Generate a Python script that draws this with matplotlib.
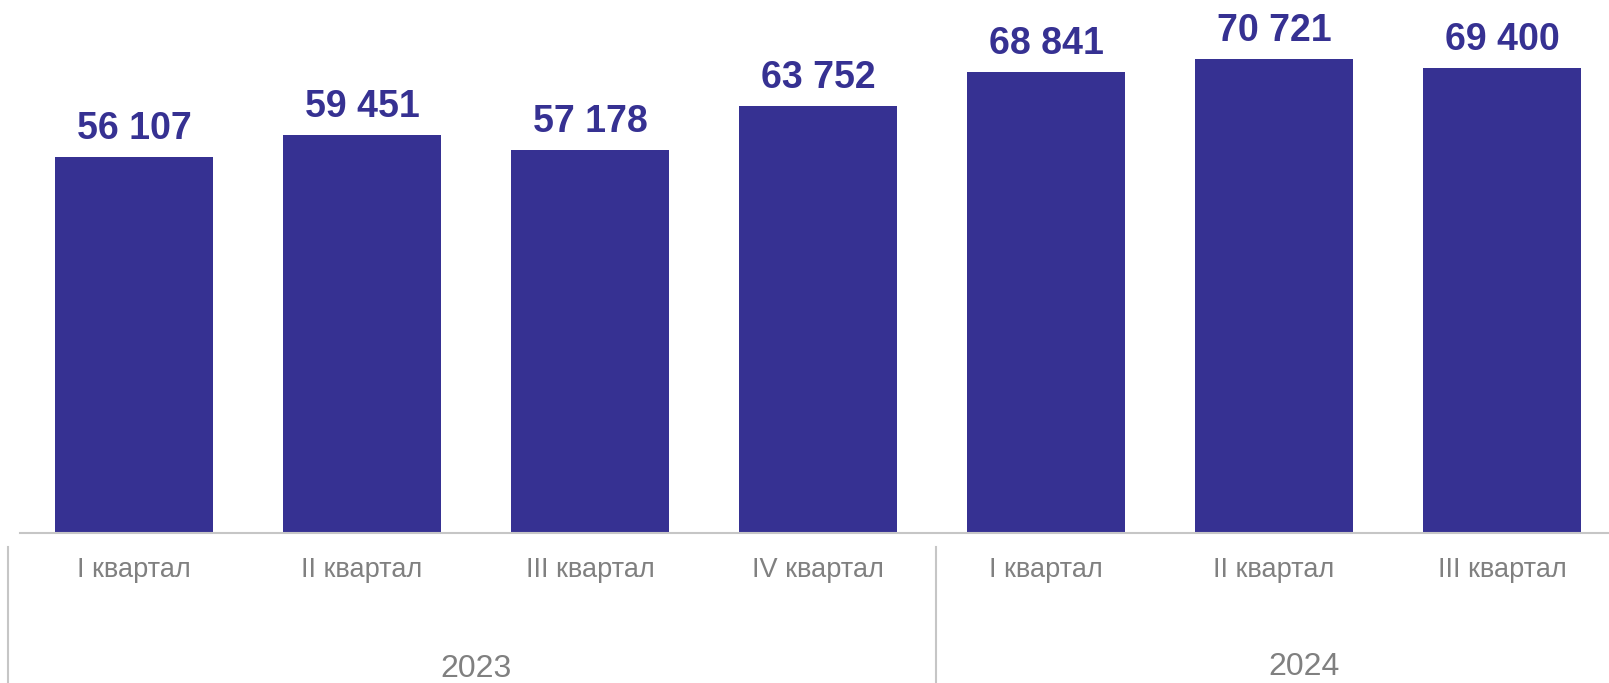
import matplotlib
matplotlib.use("Agg")
import matplotlib.pyplot as plt
import matplotlib.transforms as mtransforms
from matplotlib.lines import Line2D

categories = ["I квартал", "II квартал", "III квартал", "IV квартал",
              "I квартал", "II квартал", "III квартал"]
values = [56107, 59451, 57178, 63752, 68841, 70721, 69400]
value_labels = ["56 107", "59 451", "57 178", "63 752", "68 841", "70 721", "69 400"]
years = ["2023", "2024"]
year_groups = [[0, 1, 2, 3], [4, 5, 6]]

BAR = "#363192"
GRAY_TXT = "#808080"
GRAY_LINE = "#c6c6c6"
FONT = "Liberation Sans"

W, H, DPI = 1609, 683, 100
fig = plt.figure(figsize=(W / DPI, H / DPI), dpi=DPI)
base_px = 533
ax = fig.add_axes([20 / W, 1 - base_px / H, 1 - 20 / W, base_px / H])

x = list(range(len(values)))
ax.bar(x, values, width=0.693, color=BAR, zorder=2)
ax.set_xlim(-0.5, (W - 134) / 228)
ax.set_ylim(0, base_px / 0.0067)

for s in ["top", "left", "right"]:
    ax.spines[s].set_visible(False)
ax.spines["bottom"].set_color(GRAY_LINE)
ax.spines["bottom"].set_linewidth(1.5)
ax.set_xticks([])
ax.set_yticks([])

for xi, v, lab in zip(x, values, value_labels):
    ax.annotate(lab, (xi, v), xytext=(0, 13), textcoords="offset points",
                ha="center", va="baseline", fontsize=27, fontweight="bold",
                color=BAR, family=FONT)

tr = mtransforms.blended_transform_factory(ax.transData, fig.transFigure)
for xi, c in zip(x, categories):
    ax.text(xi, 1 - 577 / H, c, transform=tr, ha="center", va="baseline",
            fontsize=19.5, color=GRAY_TXT, family=FONT)

# year labels
year_offsets = [0.0, 0.13]
for yl, grp, off, va, yp in zip(years, year_groups, year_offsets,
                                ["baseline", "bottom"], [677, 682]):
    cx = sum(grp) / len(grp) + off
    ax.text(cx, 1 - yp / H, yl, transform=tr, ha="center", va=va,
            fontsize=23, color=GRAY_TXT, family=FONT)

# group separators
for sx in [-0.553, 3.518]:
    fig.add_artist(Line2D([sx, sx], [1 - 547 / H, 0], transform=tr,
                          color=GRAY_LINE, lw=1.5, clip_on=False))

fig.savefig("out.png", dpi=DPI)
